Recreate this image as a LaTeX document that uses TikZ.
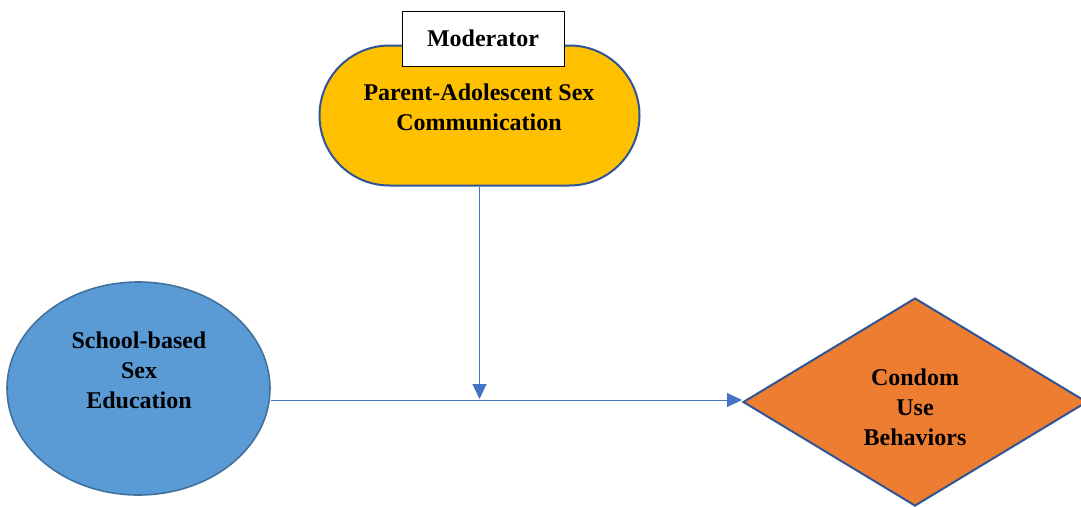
\documentclass[tikz,border=0pt]{standalone}
\usepackage{fontspec}
\setmainfont{Liberation Serif}
\usetikzlibrary{shapes.geometric,arrows.meta}
\definecolor{outline}{HTML}{2F5597}
\definecolor{ovalline}{HTML}{41719C}
\definecolor{linkblue}{HTML}{4472C4}
\definecolor{gold}{HTML}{FFC000}
\definecolor{skyblue}{HTML}{5B9BD5}
\definecolor{orange}{HTML}{ED7D31}
\tikzset{
  label text/.style={font=\fontsize{24}{30}\selectfont\bfseries, align=center, inner sep=0pt},
  link/.style={draw=linkblue, line width=1pt, -{Triangle[length=15pt,width=14pt]}, color=linkblue},
}
\begin{document}
\begin{tikzpicture}[x=1pt,y=-1pt]
\useasboundingbox (0,0) rectangle (1081,506);
% moderator: parent-adolescent communication
\node[draw=outline, line width=2pt, fill=gold, rectangle, rounded corners=70pt,
      minimum width=320pt, minimum height=140pt, inner sep=0pt] (comm) at (479.5,115.5) {};
\node[label text] (commtext) at (479,107) {Parent-Adolescent Sex\\Communication};
\node[draw=black, line width=0.8pt, fill=white, minimum width=162pt, minimum height=55pt,
      inner sep=0pt] (modbox) at (483,39) {};
\node[label text] (modtext) at (483,38) {Moderator};
% predictor
\node[draw=ovalline, line width=1.6pt, fill=skyblue, ellipse, minimum width=263pt,
      minimum height=213pt, inner sep=0pt] (edu) at (138.5,388.5) {};
\node[label text] (edutext) at (139,370) {School-based\\Sex\\Education};
% outcome
\node[draw=outline, line width=2pt, fill=orange, diamond, minimum width=344pt,
      minimum height=208pt, inner sep=0pt] (cub) at (915,402) {};
\node[label text] (cubtext) at (915,407) {Condom\\Use\\Behaviors};
% connectors
\coordinate (join) at (479.5,399);
\draw[link] (edu.east |- 0,400) -- (cub.west |- 0,400);
\draw[link] (comm.south) -- (join);
\end{tikzpicture}
\end{document}
